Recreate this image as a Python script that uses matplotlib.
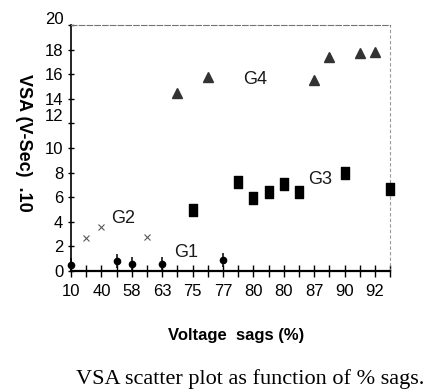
import matplotlib.pyplot as plt
import matplotlib.transforms as mtransforms
from matplotlib.path import Path
import numpy as np

plt.rcParams['font.family'] = ['Liberation Sans', 'DejaVu Sans']

# x axis is categorical: sag positions (index) with labels on every other tick
sag_labels = ["10", "40", "58", "63", "75", "77", "80", "80", "87", "90", "92"]
yticks = [0, 2, 4, 6, 8, 10, 12, 14, 16, 18, 20]

# groups (x = tick index, y = VSA)
g1_x = [0, 3, 4, 6, 10]
g1_y = [0.5, 0.8, 0.6, 0.6, 0.9]
g2_x = [1, 2, 5]
g2_y = [2.7, 3.6, 2.8]
g3_x = [8, 11, 12, 13, 14, 15, 18, 21]
g3_y = [5.0, 7.2, 5.9, 6.4, 7.1, 6.4, 8.0, 6.7]
g4_x = [7, 9, 16, 17, 19, 20]
g4_y = [14.5, 15.8, 15.5, 17.4, 17.7, 17.8]

group_names = ["G1", "G2", "G3", "G4"]
group_text_x = [7.6, 3.4, 16.4, 12.1]
group_text_y = [1.5, 4.3, 7.4, 15.6]

fig = plt.figure(figsize=(4.33, 3.9), dpi=100)
ax = fig.add_axes([0.164, 0.305, 0.737, 0.631])

# tall rectangle marker for G3
rect = Path([(-0.6, -1), (0.6, -1), (0.6, 1), (-0.6, 1), (-0.6, -1)],
            [Path.MOVETO, Path.LINETO, Path.LINETO, Path.LINETO, Path.CLOSEPOLY])

ax.plot(g1_x, g1_y, linestyle='none', marker='o', ms=4.5, color='black', clip_on=False, zorder=5)
ax.plot(g1_x, g1_y, linestyle='none', marker='|', ms=10, mew=1.1, color='black', clip_on=False, zorder=5)
ax.plot(g2_x, g2_y, linestyle='none', marker='x', ms=5, mew=0.8, color='0.35', clip_on=False)
ax.plot(g3_x, g3_y, linestyle='none', marker=rect, ms=9, color='black', clip_on=False, zorder=5)
ax.plot(g4_x, g4_y, linestyle='none', marker='^', ms=6.5, color='0.2', clip_on=False)

for name, tx, ty in zip(group_names, group_text_x, group_text_y):
    ax.text(tx, ty, name, fontsize=13, ha='center', va='center', color='0.1')

ax.set_xlim(0, 21)
ax.set_ylim(0, 20)

ax.set_xticks(np.arange(0, 21, 2))
ax.set_xticklabels(sag_labels, fontsize=12)
ax.set_xticks(np.arange(0, 22, 1), minor=True)
ax.tick_params(axis='x', which='both', direction='inout', length=8, width=1, pad=5)

ax.set_yticks(yticks)
ax.set_yticklabels([str(v) for v in yticks], fontsize=12)
ax.tick_params(axis='y', direction='inout', length=5, width=1, pad=3)

# nudge the crowded labels like in the scan
for lab in ax.get_yticklabels():
    if lab.get_text() == "12":
        lab.set_transform(lab.get_transform() + mtransforms.ScaledTranslation(0, 6 / 72, fig.dpi_scale_trans))
    if lab.get_text() == "20":
        lab.set_transform(lab.get_transform() + mtransforms.ScaledTranslation(0, 5 / 72, fig.dpi_scale_trans))

ax.spines['left'].set_linewidth(1.2)
ax.spines['bottom'].set_linewidth(1.6)
ax.spines['top'].set_color('0.45')
ax.spines['top'].set_linestyle((0, (5, 2)))
ax.spines['right'].set_color('0.6')
ax.spines['right'].set_linestyle((0, (2, 3)))

fig.text(0.055, 0.633, "VSA (V-Sec)  .10", fontsize=13, fontweight='bold', rotation=-90,
         ha='center', va='center')
fig.text(0.545, 0.128, "Voltage  sags (%)", fontsize=12, fontweight='bold', ha='center', va='baseline')
fig.text(0.577, 0.015, "VSA scatter plot as function of % sags.", fontsize=16,
         family=['Liberation Serif', 'DejaVu Serif'], ha='center', va='baseline')

fig.savefig("out.png", dpi=100)
